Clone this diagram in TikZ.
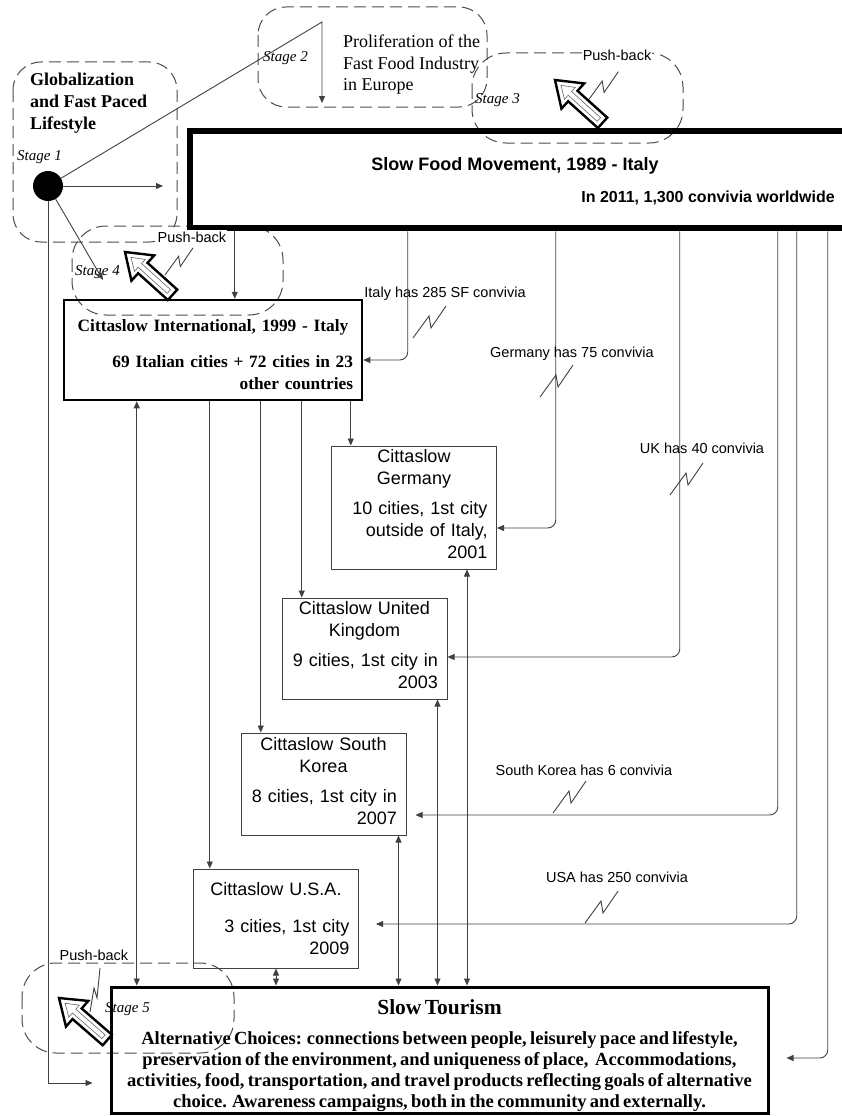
\documentclass[tikz,border=0pt]{standalone}
\usepackage{fontspec}
\setmainfont{Liberation Serif}
\setsansfont{Liberation Sans}
\usetikzlibrary{arrows.meta,calc}

% hollow push-back arrow: tip, angle
\newcommand{\hollowarrow}[2]{%
  \begin{scope}[shift={#1}, rotate=#2]
    \draw[line width=2.4pt, fill=white] (0,0) -- (-24,17) -- (-24,7) -- (-64,7)
      -- (-64,-7) -- (-24,-7) -- (-24,-17) -- cycle;
    \draw[line width=0.6pt, black!60] (-8,0) -- (-20,8) -- (-20,2.5) -- (-59,2.5)
      -- (-59,-2.5) -- (-20,-2.5) -- (-20,-8) -- cycle;
  \end{scope}}
% zigzag callout line, from its lower end
\newcommand{\bolt}[2][1]{%
  \draw[conn] #2 -- ++({16*#1},{-22*#1}) -- ++({2*#1},{12*#1}) -- ++({15*#1},{-22*#1});}

\begin{document}
\begin{tikzpicture}[x=1pt, y=-1pt,
  conn/.style={black!75, line width=0.9pt},
  arr/.style={-{Triangle[length=7pt,width=6pt]}},
  arr2/.style={{Triangle[length=7pt,width=6pt]}-{Triangle[length=7pt,width=6pt]}},
  stagebox/.style={black!70, line width=1pt, dash pattern=on 12pt off 6pt, rounded corners=28pt},
  stagetag/.style={font=\itshape\fontsize{15}{17}\selectfont, anchor=base west, inner sep=0pt},
  pushtag/.style={font=\sffamily\fontsize{14.5}{17}\selectfont, anchor=base, fill=white, inner sep=1pt},
  note/.style={font=\sffamily\fontsize{14.5}{17}\selectfont, anchor=base, inner sep=0pt},
  citybox/.style={draw=black!75, line width=1pt, font=\sffamily\fontsize{18}{22}\selectfont,
    inner xsep=9pt, inner ysep=0pt, text width=147pt}]
\useasboundingbox (0,0) rectangle (841,1116);

% Stage boxes:
\draw[stagebox] (13,62) rectangle (177,242);
\draw[stagebox] (258,7) rectangle (487,107);
\draw[stagebox, rounded corners=34pt] (472,53) rectangle (683,143);
\draw[stagebox, rounded corners=34pt] (72,226) rectangle (283,315);
\draw[stagebox, rounded corners=34pt] (22,963) rectangle (234,1053);

\node[font=\bfseries\fontsize{18}{22}\selectfont, align=left, anchor=north west, inner sep=0pt]
  (global) at (30,72.8) {Globalization\\and Fast Paced\\Lifestyle};
\node[font=\fontsize{18}{21.5}\selectfont, align=left, anchor=north west, inner sep=0pt]
  (fastfood) at (343,34.7) {Proliferation of the\\Fast Food Industry\\in Europe};

\node[stagetag] (st1) at (17,160) {Stage 1};
\node[stagetag] (st2) at (263,62) {Stage 2};
\node[stagetag] (st3) at (475,103) {Stage 3};
\node[stagetag] (st4) at (75,275) {Stage 4};
\node[stagetag] (st5) at (105,1012) {Stage 5};

% Slow Food box, runs off the right edge
\node[draw, line width=6.5pt, minimum width=680pt, minimum height=97pt] (sf) at (530,179.5) {};
\node[font=\sffamily\bfseries\fontsize{18}{22}\selectfont, anchor=base, inner sep=0pt]
  (sftitle) at (515,170) {Slow Food Movement, 1989 - Italy};
\node[font=\sffamily\bfseries\fontsize{16}{20}\selectfont, anchor=base east, inner sep=0pt]
  (sfcount) at (835,202) {In 2011, 1,300 convivia worldwide};

\node[draw, line width=2.5pt, minimum width=298pt, minimum height=100pt, text width=280pt,
  inner xsep=9pt, inner ysep=0pt, font=\bfseries\fontsize{17.3}{22}\selectfont] (intl) at (213,350)
  {{\centering\rule{0pt}{22pt}\makebox[\linewidth]{Cittaslow International, 1999 - Italy}\par}\vspace{14pt}%
   {\raggedleft 69 Italian cities + 72 cities in 23\\other countries\par}};

\node[citybox, minimum width=164pt, minimum height=123pt] (de) at (414,507.5)
  {{\centering Cittaslow\\Germany\par}\vspace{8pt}%
   {\raggedleft 10 cities, 1st city\\outside of Italy,\\2001\par}\kern6pt};
\node[citybox, minimum width=165pt, minimum height=101pt] (uk) at (364.5,648.5)
  {{\centering Cittaslow United\\Kingdom\par}\vspace{8pt}%
   {\raggedleft 9 cities, 1st city in\\2003\par}\kern6pt};
\node[citybox, minimum width=165pt, minimum height=102pt] (kr) at (323.5,784)
  {{\centering Cittaslow South\\Korea\par}\vspace{8pt}%
   {\raggedleft 8 cities, 1st city in\\2007\par}\kern6pt};
\node[citybox, minimum width=164pt, minimum height=99pt] (us) at (276,918.5)
  {{\centering Cittaslow U.S.A.\par}\vspace{15pt}%
   {\raggedleft 3 cities, 1st city\\2009\par}};

\node[draw, line width=3pt, minimum width=657pt, minimum height=126pt, text width=641pt,
  inner xsep=8pt, inner ysep=0pt, font=\bfseries, align=center] (tour) at (439.5,1050)
  {{\fontsize{21.5}{24}\selectfont\rule{0pt}{27pt}Slow Tourism\par}\vspace{9pt}%
   {\fontsize{18.5}{21}\selectfont Alternative Choices: connections between people, leisurely pace and lifestyle,\\
    preservation of the environment, and uniqueness of place,\ \ Accommodations,\\
    activities, food, transportation, and travel products reflecting goals of alternative\\
    choice. Awareness campaigns, both in the community and externally.\par}};

% Stage 1 dot and its lines
\node[circle, fill, inner sep=0pt, minimum size=30pt] (dot) at (48,186) {};
\coordinate (sfin) at (163,186);
\coordinate (bend2) at (322,22);
\coordinate (europe) at (322,103);
\coordinate (cut4) at (103,280);
\draw[conn, arr] (dot) -- (sfin);
\draw[conn, arr] (dot) -- (bend2) -- (europe);
\draw[conn, arr] (dot) -- (cut4);
\draw[conn, arr] (dot) |- ($(tour.west)+(-17,33)$);

% convivia lines from the Slow Food box
\foreach \n/\dx in {in/48, it/221, de/369, uk/493, kr/591, us/610, st/641}
  \coordinate (sf-\n) at ($(sf.south west)+(\dx,0)$);
\draw[conn, arr] (sf-in) -- (sf-in |- intl.north);
\draw[conn, arr, rounded corners=8pt] (sf-it) |- ($(intl.east)+(0,10)$);
\draw[conn, arr, rounded corners=8pt] (sf-de) |- ($(de.east)+(0,20.5)$);
\draw[conn, arr, rounded corners=8pt] (sf-uk) |- ($(uk.east)+(0,8.5)$);
\draw[conn, arr, rounded corners=8pt] (sf-kr) |- ($(kr.east)+(9,31)$);
\draw[conn, arr, rounded corners=8pt] (sf-us) |- ($(us.east)+(17,5.5)$);
\draw[conn, arr, rounded corners=8pt] (sf-st) |- ($(tour.east)+(17,8)$);

% Cittaslow International to the countries
\foreach \n/\dx in {st/74, us/147, kr/198, uk/239, de/288}
  \coordinate (in-\n) at ($(intl.south west)+(\dx,0)$);
\foreach \n in {de, uk, kr, us}
  \draw[conn, arr] (in-\n) -- (in-\n |- \n.north);

% two-way lines to Slow Tourism
\coordinate (kr-out) at ($(kr.south east)+(-8,0)$);
\coordinate (uk-out) at ($(uk.south east)+(-10,0)$);
\coordinate (de-out) at ($(de.south east)+(-30,0)$);
\draw[conn, arr2] (in-st) -- (in-st |- tour.north);
\draw[conn, arr2] (us.south) -- (us.south |- tour.north);
\foreach \n in {kr, uk, de}
  \draw[conn, arr2] (\n-out) -- (\n-out |- tour.north);

% notes
\node[note] (itnote) at (445,297) {Italy has 285 SF convivia};
\node[note] (denote) at (572,357) {Germany has 75 convivia};
\node[note] (uknote) at (702,453) {UK has 40 convivia};
\node[note] (krnote) at (584,775) {South Korea has 6 convivia};
\node[note] (usnote) at (617,882) {USA has 250 convivia};
\bolt{(413,338)}
\bolt{(540,397)}
\bolt{(670,495)}
\bolt{(553,813)}
\bolt{(585,923)}

% Push-back
\node[pushtag] (push3) at (617,61) {Push-back};
\node[pushtag] (push4) at (192,242) {Push-back};
\node[pushtag] (push5) at (94,960) {Push-back};
\bolt[0.95]{(587,102)}
\bolt[0.85]{(165,275)}
\draw[conn] (90,1012) -- ++(4,-24) -- ++(3,10) -- ++(3,-30);
\hollowarrow{(555,80)}{138}
\hollowarrow{(125,252)}{138}
\hollowarrow{(59,998)}{139}

\end{tikzpicture}
\end{document}
